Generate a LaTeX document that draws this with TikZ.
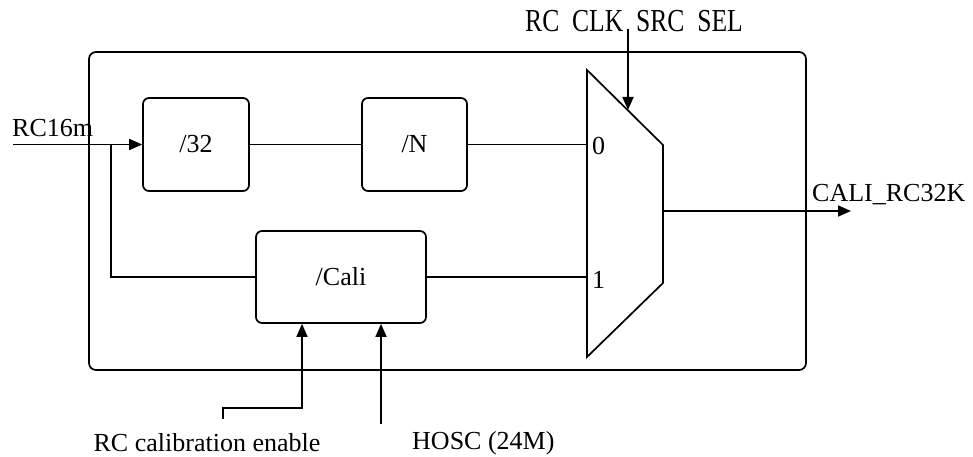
\documentclass[tikz,border=0pt]{standalone}
\usepackage{fontspec}
\setmainfont{Liberation Serif}
\usetikzlibrary{arrows.meta,positioning,calc}
\tikzset{
  rcblk/.style={draw, line width=1.7pt, rounded corners=6pt, font=\fontsize{26}{30}\selectfont},
  rcframe/.style={draw, line width=1.7pt, rounded corners=7pt},
  rcwire/.style={line width=1.7pt},
  rcarrow/.style={line width=1.7pt, -{Triangle[length=13pt, width=11pt]}},
  rclabel/.style={inner sep=0pt, font=\fontsize{26}{30}\selectfont},
}
\begin{document}
\begin{tikzpicture}[x=1pt, y=-1pt]
  \useasboundingbox (0,0) rectangle (973,457);
  % outer block and dividers
  \node[rcframe, minimum width=717pt, minimum height=318pt] (chip) at (447.5,211) {};
  \node[rcblk, minimum width=106pt, minimum height=93pt] (div32) at (196,144.5) {/32};
  \node[rcblk, minimum width=105pt, minimum height=93pt] (divN) at (414.5,144.5) {/N};
  \node[rcblk, minimum width=170pt, minimum height=92pt] (cali) at (341,277) {/Cali};

  % mux
  \coordinate (muxtl) at (587,70);
  \coordinate (muxbl) at (587,357);
  \coordinate (muxtr) at (663,145);
  \coordinate (muxbr) at (663,283);
  \draw[rcwire, line join=miter] (muxtl) -- (muxtr) -- (muxbr) -- (muxbl) -- cycle;
  \coordinate (mux0) at (587,144.5);
  \coordinate (mux1) at (587,277);
  \coordinate (muxout) at (663,211);
  \node[rclabel, anchor=west] (in0) at (592,146) {0};
  \node[rclabel, anchor=west] (in1) at (592,280) {1};

  % inputs and outputs
  \coordinate (rcin) at (13,144.5);
  \coordinate (branch) at (111,144.5);
  \coordinate (outend) at (851,211);
  \coordinate (selin) at (628,29);
  \coordinate (selhit) at (628,110);
  \coordinate (enin) at (223,419);
  \coordinate (enbend) at (302,408);
  \coordinate (hoscin) at (381,424);

  \node[rclabel, anchor=south west] (rc16m) at (12,137) {RC16m};
  \node[rclabel, anchor=south west] (caliout) at (812,205) {CALI\_RC32K};
  \node[rclabel] (sellbl) at (634,21) {\scalebox{0.8}[1]{\fontsize{32}{34}\selectfont RC\ \ CLK\ \ SRC\ \ SEL}};
  \node[rclabel] (enlbl) at (207,443) {RC calibration enable};
  \node[rclabel, anchor=west] (hosclbl) at (412,443) {HOSC (24M)};

  \draw[rcarrow] (rcin) -- (div32);
  \draw[rcwire] (div32) -- (divN);
  \draw[rcwire] (divN.east |- mux0) -- (mux0);
  \draw[rcwire] (branch) |- (cali.west);
  \draw[rcwire] (cali.east |- mux1) -- (mux1);
  \draw[rcarrow] (muxout) -- (outend);
  \draw[rcarrow] (selin) -- (selhit);
  \draw[rcarrow] (enin) |- (enbend) -- (enbend |- cali.south);
  \draw[rcarrow] (hoscin) -- (hoscin |- cali.south);
\end{tikzpicture}
\end{document}
